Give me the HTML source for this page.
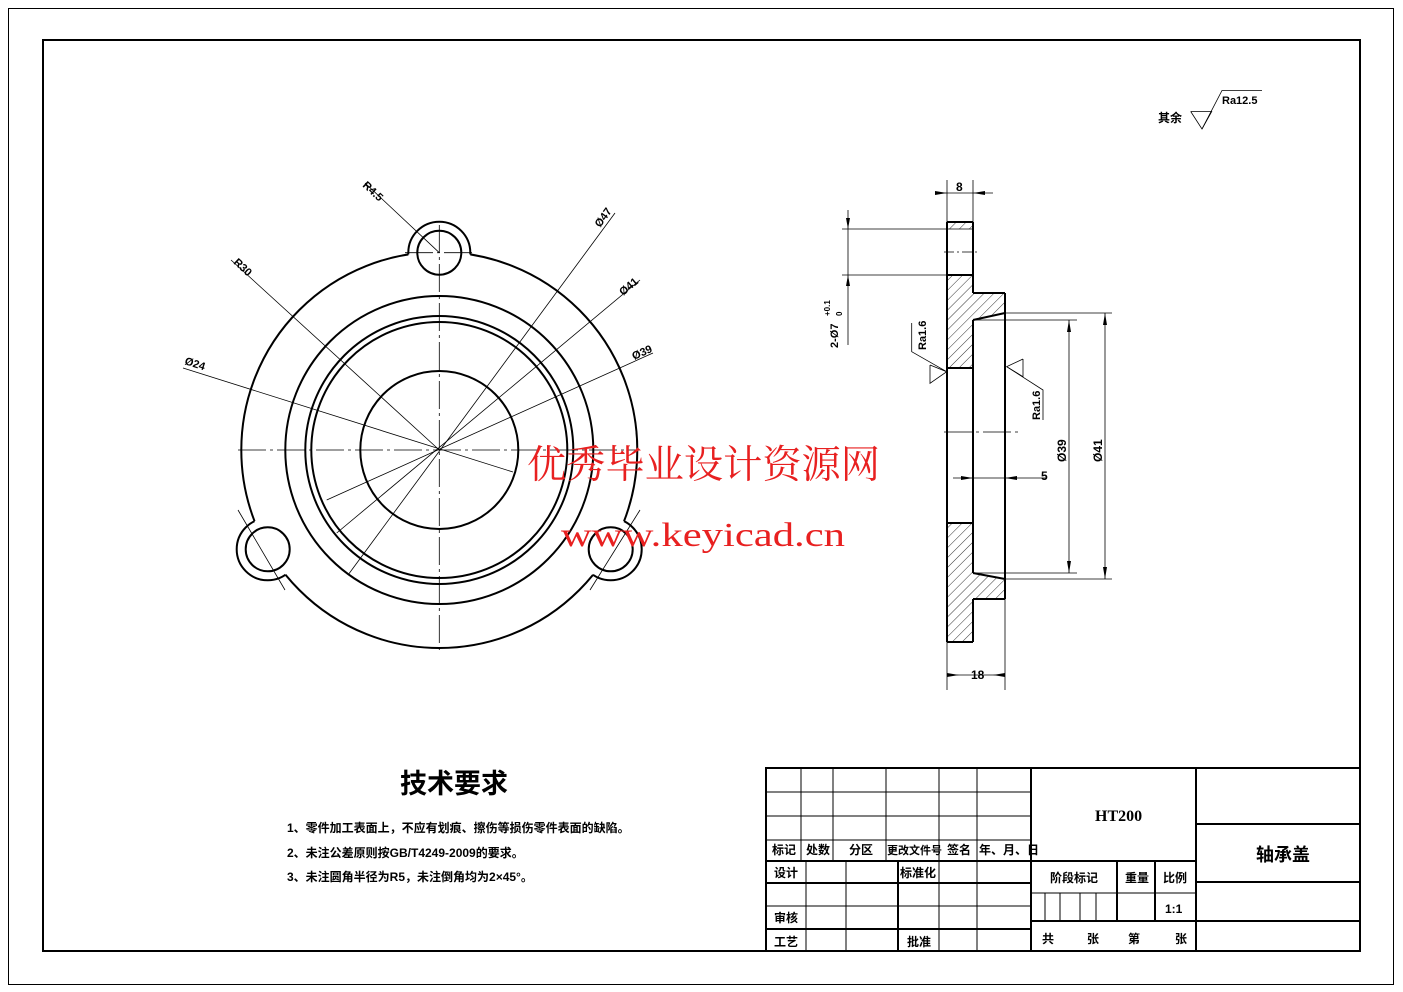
<!DOCTYPE html>
<html><head><meta charset="utf-8"><style>
html,body{margin:0;padding:0;background:#fff;}
svg{display:block;}
.t{font-family:"Liberation Sans","Noto Sans CJK SC",sans-serif;font-weight:bold;fill:#000;}
.c{font-family:"Liberation Sans","Noto Sans CJK SC",sans-serif;font-weight:bold;fill:#000;}
</style></head><body>
<svg width="1403" height="992" viewBox="0 0 1403 992" xmlns="http://www.w3.org/2000/svg">
<defs>
<pattern id="h" patternUnits="userSpaceOnUse" width="7" height="7" patternTransform="rotate(45)">
<line x1="0" y1="0" x2="0" y2="7" stroke="#000" stroke-width="0.8"/>
</pattern>
<mask id="mBig"><rect width="1403" height="992" fill="#fff"/>
<circle cx="439.3" cy="252.7" r="31" fill="#000"/><circle cx="267.7" cy="549.3" r="31" fill="#000"/><circle cx="610.7" cy="549.3" r="31" fill="#000"/></mask>
<mask id="mLug"><rect width="1403" height="992" fill="#fff"/><circle cx="439.3" cy="450" r="198" fill="#000"/></mask>
</defs>
<rect x="0" y="0" width="1403" height="992" fill="#fff"/>
<rect x="8.5" y="8.5" width="1385" height="976" fill="none" stroke="#000" stroke-width="1"/>
<rect x="43" y="40" width="1317" height="911" fill="none" stroke="#000" stroke-width="2"/>

<!-- front view -->
<g fill="none" stroke="#000">
<circle cx="439.3" cy="450" r="198" stroke-width="2" mask="url(#mBig)"/>
<g mask="url(#mLug)" stroke-width="2">
<circle cx="439.3" cy="252.7" r="31"/><circle cx="267.7" cy="549.3" r="31"/><circle cx="610.7" cy="549.3" r="31"/>
</g>
<circle cx="439.3" cy="450" r="154" stroke-width="2"/>
<circle cx="439.3" cy="450" r="134" stroke-width="2"/>
<circle cx="439.3" cy="450" r="128" stroke-width="2"/>
<circle cx="439.3" cy="450" r="79" stroke-width="2"/>
<circle cx="439.3" cy="252.7" r="22" stroke-width="2"/>
<circle cx="267.7" cy="549.3" r="22" stroke-width="2"/>
<circle cx="610.7" cy="549.3" r="22" stroke-width="2"/>
<g stroke-width="0.8" stroke-dasharray="28,4,3,4">
<line x1="238" y1="450" x2="640" y2="450"/>
<line x1="439.3" y1="225" x2="439.3" y2="652"/>
<line x1="405" y1="252.7" x2="475" y2="252.7"/>
</g>
<g stroke-width="0.8">
<line x1="365" y1="183" x2="439.3" y2="252.7"/>
<line x1="231" y1="260" x2="439.3" y2="450"/>
<line x1="615" y1="213" x2="348" y2="575"/>
<line x1="640" y1="280" x2="336.7" y2="533"/>
<line x1="653" y1="353" x2="326.7" y2="500"/>
<line x1="183" y1="368" x2="513" y2="472"/>
<line x1="238" y1="510" x2="285" y2="590"/>
<line x1="640" y1="510" x2="590" y2="590"/>
</g>
</g>
<g class="t" font-size="11">
<text transform="translate(362,186) rotate(43)">R4.5</text>
<text transform="translate(233,263) rotate(43)">R30</text>
<text transform="translate(600,228) rotate(-54)">Ø47</text>
<text transform="translate(623,296) rotate(-40)">Ø41</text>
<text transform="translate(634,360) rotate(-24)">Ø39</text>
<text transform="translate(184,364) rotate(18)">Ø24</text>
</g>

<!-- side view -->
<g stroke="#000" fill="none">
<path d="M947,222 H973 V229 H947 Z" fill="url(#h)" stroke-width="0"/>
<path d="M947,275 H973 V293 H1005 V313 L973,320 V368 H947 Z" fill="url(#h)" stroke-width="0"/>
<path d="M947,523 H973 V573 L1005,579 V599 H973 V642 H947 Z" fill="url(#h)" stroke-width="0"/>
<g stroke-width="2">
<line x1="947" y1="222" x2="947" y2="642"/>
<line x1="947" y1="222" x2="973" y2="222"/>
<line x1="973" y1="222" x2="973" y2="293"/>
<line x1="973" y1="293" x2="1005" y2="293"/>
<line x1="1005" y1="293" x2="1005" y2="599"/>
<line x1="973" y1="599" x2="1005" y2="599"/>
<line x1="973" y1="599" x2="973" y2="642"/>
<line x1="947" y1="642" x2="973" y2="642"/>
<line x1="973" y1="320" x2="973" y2="573"/>
<line x1="973" y1="320" x2="1005" y2="313"/>
<line x1="973" y1="573" x2="1005" y2="579"/>
<line x1="947" y1="368" x2="973" y2="368"/>
<line x1="947" y1="523" x2="973" y2="523"/>
<line x1="947" y1="275" x2="973" y2="275"/>
</g>
<g stroke-width="0.8">
<line x1="842" y1="229" x2="973" y2="229"/>
<line x1="842" y1="275" x2="947" y2="275"/>
<line x1="848" y1="210" x2="848" y2="345"/>
<line x1="944" y1="252" x2="977" y2="252" stroke-dasharray="10,3,2,3"/>
<line x1="944" y1="432" x2="1018" y2="432" stroke-dasharray="28,4,3,4"/>
<line x1="947" y1="180" x2="947" y2="222"/>
<line x1="973" y1="180" x2="973" y2="222"/>
<line x1="935" y1="193" x2="993" y2="193"/>
<line x1="947" y1="642" x2="947" y2="690"/>
<line x1="1005" y1="599" x2="1005" y2="690"/>
<line x1="947" y1="675" x2="1005" y2="675"/>
<line x1="1005" y1="313" x2="1112" y2="313"/>
<line x1="1005" y1="579" x2="1112" y2="579"/>
<line x1="973" y1="320" x2="1077" y2="320"/>
<line x1="973" y1="573" x2="1077" y2="573"/>
<line x1="1069" y1="320" x2="1069" y2="573"/>
<line x1="1105" y1="313" x2="1105" y2="579"/>
<line x1="953" y1="478" x2="1047" y2="478"/>
<polyline points="911.7,323 911.7,351.7 946.7,371.7"/>
<polyline points="930,365 946.7,371.7 930,383.3 930,365"/>
<polyline points="1043,420 1043,390 1006.7,366.7"/>
<polyline points="1023,359 1006.7,366.7 1023,376.7 1023,359"/>
<polyline points="1190.7,111.5 1211.7,111.5 1202,129 1190.7,111.5"/>
<polyline points="1202,129 1222,90.5 1262,90.5"/>
</g>
</g>
<g fill="#000">
<polygon points="935,191 947,193 935,195"/><polygon points="985,191 973,193 985,195"/>
<polygon points="947,673 959,675 947,677"/><polygon points="1005,673 993,675 1005,677"/>
<polygon points="846,218 848,229 850,218"/><polygon points="846,286 848,275 850,286"/>
<polygon points="1067,332 1069,320 1071,332"/><polygon points="1067,561 1069,573 1071,561"/>
<polygon points="1103,325 1105,313 1107,325"/><polygon points="1103,567 1105,579 1107,567"/>
<polygon points="961,476 973,478 961,480"/><polygon points="1017,476 1005,478 1017,480"/>
</g>
<g class="t" font-size="12">
<text x="956" y="191">8</text>
<text x="971" y="679">18</text>
<text x="1041" y="480">5</text>
<text transform="translate(1066,462) rotate(-90)">Ø39</text>
<text transform="translate(1102,462) rotate(-90)">Ø41</text>
<text transform="translate(926,350) rotate(-90)" font-size="11">Ra1.6</text>
<text transform="translate(1040,420) rotate(-90)" font-size="11">Ra1.6</text>
<text transform="translate(838,348) rotate(-90)" font-size="11">2-Ø7</text>
<text transform="translate(830,316) rotate(-90)" font-size="8">+0.1</text>
<text transform="translate(842,316) rotate(-90)" font-size="8">0</text>
<text x="1222" y="104" font-size="11">Ra12.5</text>
</g>
<text class="c" x="1158" y="122" font-size="12">其余</text>

<!-- watermark -->
<text x="527" y="478" font-family="'Noto Serif CJK SC','Noto Sans CJK SC',serif" font-size="39" fill="#e82020" textLength="353" lengthAdjust="spacingAndGlyphs">优秀毕业设计资源网</text>
<text x="561" y="546" font-family="'Liberation Serif',serif" font-size="34" fill="#e82020" textLength="284" lengthAdjust="spacingAndGlyphs">www.keyicad.cn</text>

<!-- tech requirements -->
<text class="c" x="400" y="793" font-size="27" font-weight="normal">技术要求</text>
<g class="c" font-size="12">
<text x="287" y="832">1、零件加工表面上，不应有划痕、擦伤等损伤零件表面的缺陷。</text>
<text x="287" y="857">2、未注公差原则按GB/T4249-2009的要求。</text>
<text x="287" y="881">3、未注圆角半径为R5，未注倒角均为2×45°。</text>
</g>

<!-- title block -->
<g stroke="#000" fill="none">
<rect x="766" y="768" width="594" height="183" stroke-width="2"/>
<g stroke-width="1">
<line x1="766" y1="792" x2="1031" y2="792"/>
<line x1="766" y1="816" x2="1031" y2="816"/>
<line x1="766" y1="840" x2="1031" y2="840"/>
<line x1="766" y1="906" x2="1031" y2="906"/>
<line x1="801" y1="768" x2="801" y2="861"/>
<line x1="833" y1="768" x2="833" y2="861"/>
<line x1="886" y1="768" x2="886" y2="861"/>
<line x1="939" y1="768" x2="939" y2="951"/>
<line x1="977" y1="768" x2="977" y2="951"/>
<line x1="806" y1="861" x2="806" y2="951"/>
<line x1="846" y1="861" x2="846" y2="951"/>
<line x1="1045" y1="893" x2="1045" y2="921"/>
<line x1="1060" y1="893" x2="1060" y2="921"/>
<line x1="1080" y1="893" x2="1080" y2="921"/>
<line x1="1096" y1="893" x2="1096" y2="921"/>
<line x1="1031" y1="893" x2="1196" y2="893"/>
</g>
<g stroke-width="2">
<line x1="766" y1="861" x2="1196" y2="861"/>
<line x1="766" y1="883" x2="1031" y2="883"/>
<line x1="766" y1="929" x2="1031" y2="929"/>
<line x1="898" y1="861" x2="898" y2="951"/>
<line x1="1031" y1="768" x2="1031" y2="951"/>
<line x1="1196" y1="768" x2="1196" y2="951"/>
<line x1="1117" y1="861" x2="1117" y2="921"/>
<line x1="1155" y1="861" x2="1155" y2="921"/>
<line x1="1031" y1="921" x2="1360" y2="921"/>
<line x1="1196" y1="824" x2="1360" y2="824"/>
<line x1="1196" y1="882" x2="1360" y2="882"/>
</g>
</g>
<g class="c" font-size="12">
<text x="772" y="854">标记</text><text x="806" y="854">处数</text><text x="849" y="854">分区</text>
<text x="887" y="854" font-size="11">更改文件号</text><text x="947" y="854">签名</text><text x="979" y="854">年、月、日</text>
<text x="774" y="877">设计</text><text x="900" y="877">标准化</text>
<text x="774" y="922">审核</text><text x="774" y="946">工艺</text><text x="907" y="946">批准</text>
<text x="1050" y="882">阶段标记</text><text x="1125" y="882">重量</text><text x="1163" y="882">比例</text>
<text x="1165" y="913">1:1</text>
<text x="1042" y="943">共</text><text x="1087" y="943">张</text><text x="1128" y="943">第</text><text x="1175" y="943">张</text>
<text x="1095" y="821" font-size="16" font-family="'Liberation Serif',serif">HT200</text>
<text x="1256" y="861" font-size="18">轴承盖</text>
</g>
</svg>
</body></html>
